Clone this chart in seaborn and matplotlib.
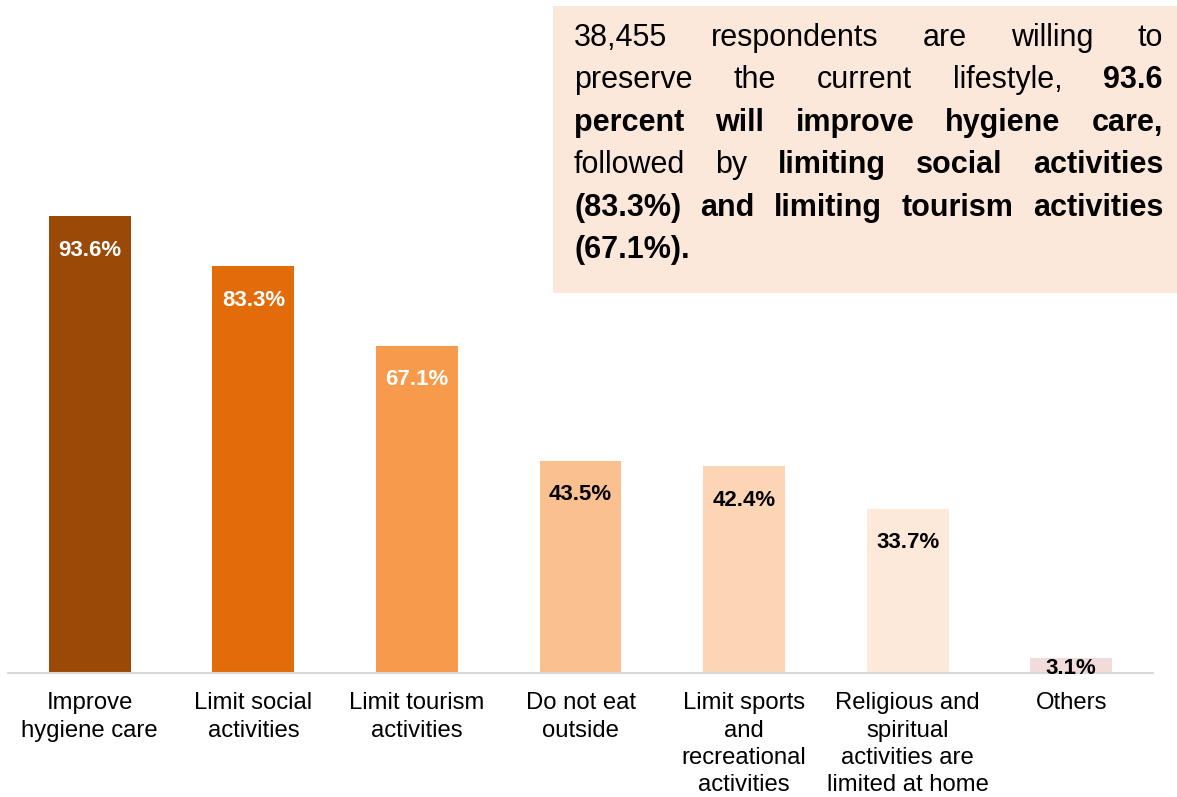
import matplotlib
matplotlib.use("Agg")
import matplotlib.pyplot as plt
import seaborn as sns
import pandas as pd
from matplotlib.patches import Rectangle

# Survey results: lifestyle changes respondents plan to keep
categories = [
    "Improve\nhygiene care",
    "Limit social\nactivities",
    "Limit tourism\nactivities",
    "Do not eat\noutside",
    "Limit sports\nand\nrecreational\nactivities",
    "Religious and\nspiritual\nactivities are\nlimited at home",
    "Others",
]
percentages = [93.6, 83.3, 67.1, 43.5, 42.4, 33.7, 3.1]
bar_colors = ["#9A4A06", "#E36C0A", "#F79A4B", "#FAC090", "#FCD5B4", "#FDE9D9", "#F2DCDB"]
label_colors = ["white", "white", "white", "black", "black", "black", "black"]

# Justified summary paragraph: each line is a list of (word, bold)
summary_lines = [
    [("38,455", False), ("respondents", False), ("are", False), ("willing", False), ("to", False)],
    [("preserve", False), ("the", False), ("current", False), ("lifestyle,", False), ("93.6", True)],
    [("percent", True), ("will", True), ("improve", True), ("hygiene", True), ("care,", True)],
    [("followed", False), ("by", False), ("limiting", True), ("social", True), ("activities", True)],
    [("(83.3%)", True), ("and", True), ("limiting", True), ("tourism", True), ("activities", True)],
    [("(67.1%).", True)],
]

sns.set_theme(style="white")
plt.rcParams["font.family"] = ["Liberation Sans", "DejaVu Sans"]

W, H = 1177, 797
fig = plt.figure(figsize=(W / 100, H / 100), dpi=100)
ax = fig.add_axes([8 / W, 124 / H, (1153 - 8) / W, 488 / H])

df = pd.DataFrame({"category": categories, "value": percentages})
sns.barplot(data=df, x="category", y="value", hue="category", palette=bar_colors,
            width=0.5, legend=False, ax=ax, saturation=1, edgecolor="none")

ax.set_xlim(-0.5, len(categories) - 0.5)
ax.set_ylim(0, 100)
ax.set_xlabel("")
ax.set_ylabel("")
ax.set_yticks([])
ax.set_xticks(range(len(categories)), categories, linespacing=1.3, va="top",
              fontsize=17.2, color="#000000")
for side in ["top", "left", "right"]:
    ax.spines[side].set_visible(False)
ax.spines["bottom"].set_color("#D9D9D9")
ax.spines["bottom"].set_linewidth(1.5)
ax.tick_params(axis="x", length=0, pad=14)

# Value labels inside the bars
px_per_unit = 488 / 100
for i, (v, c) in enumerate(zip(percentages, label_colors)):
    offset_px = min(34, v * px_per_unit - 4)
    ax.annotate(f"{v}%", xy=(i, v), xytext=(0, -offset_px), textcoords="offset pixels",
                ha="center", va="center", fontsize=16, fontweight="bold", color=c)

# Summary box
fig.patches.append(Rectangle((553 / W, 1 - 293 / H), (W - 553) / W, (293 - 6) / H,
                             transform=fig.transFigure, facecolor="#FCE8DA",
                             edgecolor="none", zorder=0))

fig.canvas.draw()
renderer = fig.canvas.get_renderer()
left_px, right_px = 574, 1163
base0, line_gap = 46, 42.4
for li, words in enumerate(summary_lines):
    y = 1 - (base0 + li * line_gap) / H
    texts = []
    for w, b in words:
        t = fig.text(0, y, w, fontsize=22, fontweight="bold" if b else "normal",
                     color="black", va="baseline", ha="left")
        texts.append(t)
    widths = [t.get_window_extent(renderer).width for t in texts]
    last = li == len(summary_lines) - 1
    if len(texts) > 1 and not last:
        gap = (right_px - left_px - sum(widths)) / (len(texts) - 1)
    else:
        gap = 8
    x = left_px
    for t, wd in zip(texts, widths):
        t.set_x(x / W)
        x += wd + gap

fig.savefig("out.png", dpi=100)
